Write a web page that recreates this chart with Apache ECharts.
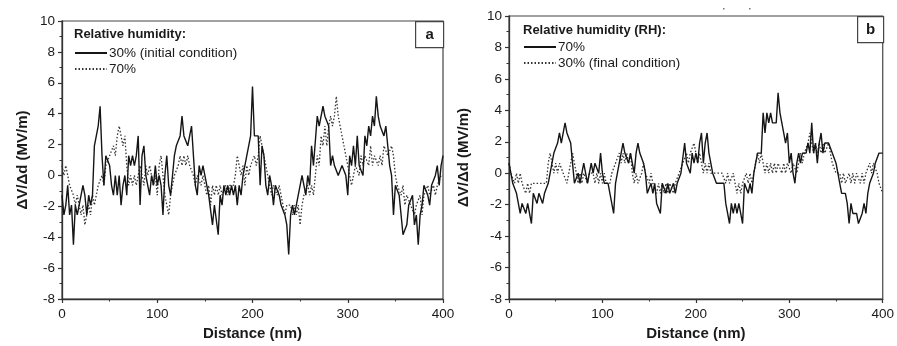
<!DOCTYPE html>
<html>
<head>
<meta charset="utf-8">
<script src="https://cdn.jsdelivr.net/npm/echarts@6/dist/echarts.min.js"></script>
<style>
html,body{margin:0;padding:0;background:#fff;}
#chart{width:897px;height:346px;}
</style>
</head>
<body>
<div id="chart"></div>
<script>
// Sampling grid: distance in nm, one reading every 2 nm from 0 to 400
const distanceStepNm = 2;

// Panel a: RH 30% (initial condition), solid
const aRH30initial = [
 -1.28,-2.56,-1.92,-0.64,-2.56,-1.92,-4.48,-1.92,-2.56,-1.92,
 -1.92,-0.64,-1.28,-2.56,-1.28,-1.92,-1.28,1.92,1.92,3.2,
 4.48,1.28,-0.64,1.28,1.28,0.64,-0.64,-1.28,0,-1.28,
 0,-1.92,-0.64,0,-1.28,1.28,0.64,1.28,0.64,1.28,
 2.56,-1.92,1.28,1.92,0,-0.64,-1.28,0,-0.64,0.64,
 -0.64,0,-0.64,-2.56,0,1.28,-0.64,-1.28,0,1.28,
 1.92,1.92,2.56,3.84,2.56,2.56,1.92,2.56,3.2,1.28,
 -0.64,-1.28,0.64,0,0.64,0,-0.64,-1.28,-1.28,-3.2,
 -1.92,-1.92,-3.84,-1.28,-1.92,-0.64,-1.28,-0.64,-1.28,-0.64,
 -1.28,-0.64,-1.92,-0.64,-1.28,0,0.64,1.28,1.92,2.56,
 5.76,2.56,2.56,2.56,-0.64,1.92,1.28,-0.64,-1.28,0,
 -0.64,-1.92,-0.64,-0.64,-1.28,-1.92,-1.92,-2.56,-3.2,-5.12,
 -2.56,-1.92,-2.56,-1.92,-1.92,-0.64,0,-0.64,-1.28,0,
 -0.64,1.92,0.64,0.64,3.84,3.2,3.2,4.48,3.84,3.84,
 3.2,0.64,1.28,0.64,0.64,0,0,0.64,0.64,0,
 -1.28,1.28,0.64,1.92,0.64,2.56,0.64,0.64,0,2.56,
 1.92,3.2,2.56,3.84,3.2,5.12,3.84,3.2,3.2,2.56,
 3.2,1.92,0.64,0,-2.56,-0.64,-0.64,-1.28,-1.28,-3.84,
 -3.84,-3.2,-1.92,-1.92,-1.28,-3.2,-2.56,-4.48,-2.56,-1.92,
 -0.64,-0.64,-1.28,-1.92,-0.64,-0.64,0,0.64,-0.64,0.64,
 1.28
];
// Panel a: RH 70%, dotted
const aRH70 = [
 0.64,0,0.64,0,-0.64,-0.64,-1.28,-1.92,-1.28,-1.92,
 -2.56,-1.92,-3.2,-2.56,-1.92,-2.56,-1.28,-1.92,-1.28,-0.64,
 -0.64,0,-0.64,0.64,0.64,1.28,1.28,1.92,1.28,2.56,
 3.2,2.56,1.92,2.56,0.64,-0.64,0,-0.64,0,-0.64,
 0,0.64,0,-0.64,0.64,0,0.64,0,-0.64,0,
 -1.28,0.64,1.28,0,-1.28,-1.92,-2.56,-1.28,-0.64,0,
 0,0.64,1.28,0.64,1.28,0.64,1.28,0.64,0.64,0,
 -0.64,0,0,-0.64,0,-0.64,-1.28,-0.64,-1.92,-0.64,
 -1.28,-0.64,-1.28,-0.64,-1.28,-1.28,-0.64,-1.28,-0.64,-0.64,
 -0.64,0,1.28,0.64,0,0.64,-0.64,0.64,0,0.64,
 0.64,1.28,0.64,1.28,2.56,1.92,1.28,0.64,0,-0.64,
 -1.28,-0.64,-0.64,-1.28,-0.64,-1.28,-1.92,-2.56,-1.92,-1.92,
 -1.92,-2.56,-1.92,-2.56,-1.92,-3.2,-1.92,-1.28,-1.28,-0.64,
 -1.28,-0.64,-1.28,0,1.28,0.64,2.56,1.92,3.2,1.92,
 3.2,3.84,3.2,3.84,5.12,3.84,3.2,2.56,1.92,1.92,
 0.64,0.64,-0.64,0,0.64,0.64,0,1.28,0.64,1.28,
 1.28,0.64,1.92,0.64,1.28,1.28,0.64,1.28,0.64,1.92,
 1.92,1.28,1.28,1.92,1.28,0,-0.64,-0.64,-1.28,-0.64,
 -1.92,-1.28,-1.28,-1.92,-1.92,-2.56,-1.92,-1.92,-1.28,-2.56,
 -1.28,-1.28,-0.64,-1.28,-1.28,-0.64,-1.28,-0.64,-0.64,0,
 0
];
// Panel b: RH 70%, solid
const bRH70 = [
 0.64,0,-0.64,-0.64,-1.28,-1.28,-2.56,-1.92,-1.92,-2.56,
 -1.92,-1.92,-3.2,-1.28,-1.28,-1.92,-1.28,-1.28,-1.92,-1.28,
 -1.28,-0.64,0,0.64,1.28,1.28,1.92,2.56,1.92,2.56,
 3.2,2.56,2.56,1.92,0.64,-0.64,-0.64,0,-0.64,0,
 0.64,0,-0.64,0,0.64,0,0.64,0.64,0,1.28,
 0,-0.64,-0.64,-0.64,-1.28,-1.28,-2.56,-0.64,0,0.64,
 0.64,1.92,1.28,1.28,0.64,1.28,0.64,0,1.28,1.92,
 1.28,1.28,0.64,0,-1.28,-1.28,-0.64,-1.28,-0.64,-1.92,
 -1.92,-2.56,-0.64,-0.64,-1.28,-0.64,-1.28,-1.28,-0.64,-1.28,
 -0.64,-0.64,0,0,1.92,0.64,0.64,0,1.28,0.64,
 1.28,0.64,1.92,2.56,0.64,1.92,2.56,1.28,1.28,0,
 0,-0.64,-0.64,-0.64,-0.64,-0.64,-1.92,-2.56,-3.2,-1.92,
 -2.56,-1.92,-2.56,-1.92,-1.92,-3.2,-0.64,-0.64,-1.28,-0.64,
 -1.28,0,0,1.28,1.28,1.28,3.84,2.56,3.84,3.2,
 3.84,3.2,3.2,3.2,5.12,3.84,3.2,2.56,1.92,2.56,
 0.64,1.28,0,-0.64,0.64,1.28,0.64,1.28,1.28,1.28,
 1.92,1.28,3.2,1.28,1.92,0.64,1.92,2.56,1.28,1.92,
 1.92,1.92,1.92,1.28,1.28,0.64,0,-0.64,-1.28,-1.28,
 -1.28,-1.92,-3.2,-1.92,-2.56,-2.56,-2.56,-3.2,-3.2,-2.56,
 -1.92,-2.56,-1.28,-0.64,-0.64,0,0.64,0.64,1.28,1.28,
 1.28
];
// Panel b: RH 30% (final condition), dotted
const bRH30final = [
 0.64,0,0,-0.64,0,-0.64,0,-0.64,-0.64,-1.28,
 -0.64,-1.28,-0.64,-0.64,-0.64,-0.64,-0.64,-0.64,-0.64,-0.64,
 -0.64,0.64,1.28,0.64,0,0.64,0,0.64,0.64,0,
 0,-0.64,0,0.64,1.28,0.64,0,-0.64,0,-0.64,
 0,0,-0.64,0,0,0,-0.64,0,-0.64,0,
 -0.64,0,-0.64,-0.64,-0.64,0,0,0.64,0.64,1.28,
 0.64,1.28,0.64,1.28,0.64,1.28,0,-0.64,0,-0.64,
 -0.64,0,0.64,0,0,-0.64,0,-0.64,-0.64,-1.28,
 -0.64,-1.28,-0.64,-1.28,-0.64,-1.28,-0.64,-0.64,-1.28,-0.64,
 -0.64,0,0,0.64,0.64,1.28,0.64,1.28,1.28,1.92,
 1.28,0.64,1.28,0.64,0,0.64,0,0.64,0,0,
 0,0,0,0,0,0,-0.64,0,-0.64,-0.64,
 0,-0.64,-1.28,-0.64,-1.28,-0.64,-0.64,0,-0.64,0,
 -0.64,0,0.64,1.28,0.64,1.28,0.64,0,0.64,0,
 0.64,0,0.64,0,0.64,0.64,0,0.64,0,0.64,
 0.64,0,0.64,0.64,0,0.64,1.28,0.64,1.28,1.28,
 1.92,2.56,1.92,1.28,1.92,1.28,1.92,1.28,1.92,1.28,
 1.28,1.92,1.28,0.64,0.64,0,0,0,-0.64,0,
 -0.64,-0.64,0,-0.64,0,-0.64,0,0,-0.64,0,
 -0.64,0,0,0.64,0,0.64,0.64,0,-0.64,-0.64,
 -1.28
];

const xTicks = [0, 100, 200, 300, 400];
const yTicks = [-8, -6, -4, -2, 0, 2, 4, 6, 8, 10];

function pairs(vals) { return vals.map((v, i) => [i * distanceStepNm, v]); }

const FONT = 'Arial, "Liberation Sans", sans-serif';
const AX = '#333';

function xAxisFor(gi) {
  return {
    type: 'value', gridIndex: gi, min: xTicks[0], max: xTicks[xTicks.length - 1], interval: 100,
    name: 'Distance (nm)', nameLocation: 'middle', nameGap: 27,
    nameTextStyle: { fontFamily: FONT, fontWeight: 'bold', fontSize: 15, color: '#1a1a1a' },
    axisLine: { show: true, onZero: false, lineStyle: { color: AX, width: 1.3 } },
    axisTick: { show: true, inside: false, length: 4, lineStyle: { color: AX, width: 1.2 } },
    minorTick: { show: true, splitNumber: 2, length: 2.5, lineStyle: { color: AX, width: 1 } },
    splitLine: { show: false },
    axisLabel: { fontFamily: FONT, fontSize: 13.5, color: '#1a1a1a', margin: 8 }
  };
}
function yAxisFor(gi, gap) {
  return {
    type: 'value', gridIndex: gi, min: yTicks[0], max: yTicks[yTicks.length - 1], interval: 2,
    name: 'ΔV/Δd (MV/m)', nameLocation: 'middle', nameGap: gap, nameRotate: 90,
    nameTextStyle: { fontFamily: FONT, fontWeight: 'bold', fontSize: 15, color: '#1a1a1a' },
    axisLine: { show: true, onZero: false, lineStyle: { color: AX, width: 1.3 } },
    axisTick: { show: true, inside: false, length: 4, lineStyle: { color: AX, width: 1.2 } },
    minorTick: { show: true, splitNumber: 2, length: 2.5, lineStyle: { color: AX, width: 1 } },
    splitLine: { show: false },
    axisLabel: { fontFamily: FONT, fontSize: 13.5, color: '#1a1a1a', margin: 7 }
  };
}
const solid = { color: '#151515', width: 1.4, type: 'solid' };
const dotted = { color: '#333333', width: 1.3, type: [1.5, 2] };

function legendFor(left, top, names) {
  return {
    orient: 'vertical', left: left, top: top, padding: 0,
    itemWidth: 32, itemHeight: 10, itemGap: 2,
    itemStyle: { opacity: 0, borderWidth: 0 },
    textStyle: { fontFamily: FONT, fontSize: 13.5, color: '#1a1a1a', padding: [0, 0, 0, -3] },
    data: names, selectedMode: false
  };
}

const chart = echarts.init(document.getElementById('chart'), null, { renderer: 'canvas' });
chart.setOption({
  animation: false,
  backgroundColor: '#fff',
  grid: [
    { left: 62, top: 21, width: 381, height: 279, show: true, borderColor: '#444', borderWidth: 1.2 },
    { left: 509, top: 16, width: 374, height: 289, show: true, borderColor: '#444', borderWidth: 1.2 }
  ],
  xAxis: [xAxisFor(0), xAxisFor(1)],
  yAxis: [yAxisFor(0, 32), yAxisFor(1, 38)],
  legend: [
    legendFor(74, 46, ['30% (initial condition)', '70%']),
    legendFor(523, 40, ['70% ', '30% (final condition)'])
  ],
  series: [
    { name: '30% (initial condition)', type: 'line', xAxisIndex: 0, yAxisIndex: 0, data: pairs(aRH30initial), symbol: 'none', lineStyle: solid, itemStyle: { color: solid.color }, z: 3 },
    { name: '70%', type: 'line', xAxisIndex: 0, yAxisIndex: 0, data: pairs(aRH70), symbol: 'none', lineStyle: dotted, itemStyle: { color: dotted.color }, z: 2 },
    { name: '70% ', type: 'line', xAxisIndex: 1, yAxisIndex: 1, data: pairs(bRH70), symbol: 'none', lineStyle: solid, itemStyle: { color: solid.color }, z: 3 },
    { name: '30% (final condition)', type: 'line', xAxisIndex: 1, yAxisIndex: 1, data: pairs(bRH30final), symbol: 'none', lineStyle: dotted, itemStyle: { color: dotted.color }, z: 2 }
  ],
  graphic: [
    { type: 'text', left: 74, top: 28, style: { text: 'Relative humidity:', font: 'bold 13px ' + FONT, fill: '#1a1a1a' } },
    { type: 'text', left: 523, top: 24, style: { text: 'Relative humidity (RH):', font: 'bold 13px ' + FONT, fill: '#1a1a1a' } },
    { type: 'group', left: 415, top: 21, children: [
      { type: 'rect', shape: { x: 0, y: 0, width: 28, height: 26 }, style: { fill: '#fff', stroke: '#444', lineWidth: 1.2 } },
      { type: 'text', x: 14, y: 13, style: { text: 'a', font: 'bold 15px ' + FONT, fill: '#1a1a1a', align: 'center', verticalAlign: 'middle' } }
    ] },
    { type: 'group', left: 857, top: 16, children: [
      { type: 'rect', shape: { x: 0, y: 0, width: 26, height: 26 }, style: { fill: '#fff', stroke: '#444', lineWidth: 1.2 } },
      { type: 'text', x: 13, y: 13, style: { text: 'b', font: 'bold 15px ' + FONT, fill: '#1a1a1a', align: 'center', verticalAlign: 'middle' } }
    ] },
    { type: 'rect', left: 723, top: 8, shape: { width: 1.5, height: 1.5 }, style: { fill: '#777' } },
    { type: 'rect', left: 749, top: 8, shape: { width: 1.5, height: 1.5 }, style: { fill: '#777' } }
  ]
});
</script>
</body>
</html>
